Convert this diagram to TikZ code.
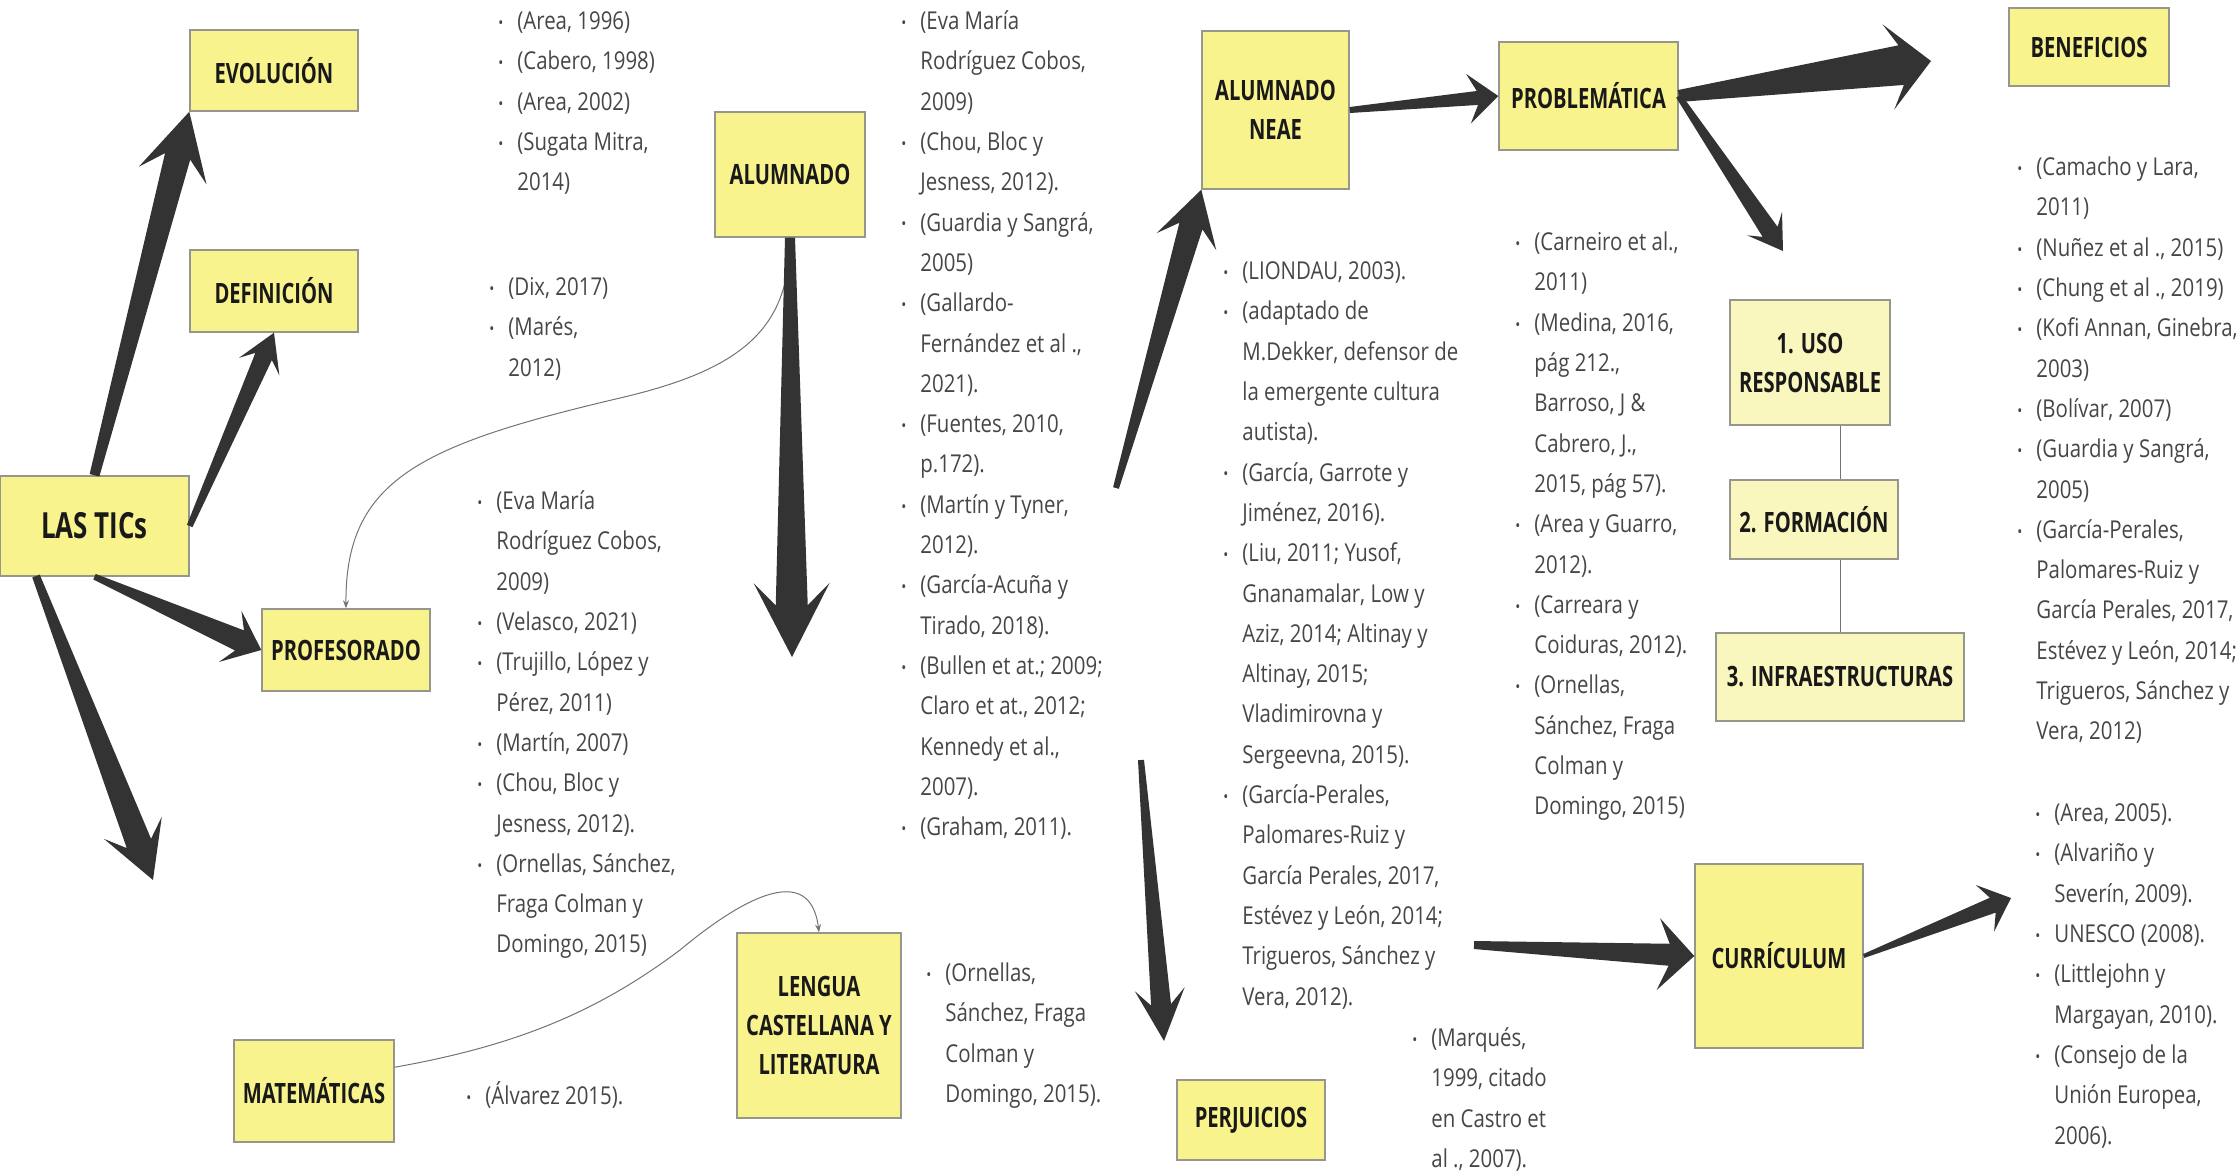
\documentclass[tikz,border=0pt]{standalone}
\usepackage{fontspec}
\setmainfont{Open Sans}[FakeStretch=0.83]
\newfontfamily\titlefont{Open Sans}[FakeStretch=0.72]
\usetikzlibrary{calc,arrows.meta}

\definecolor{notaamarilla}{RGB}{248,243,141}
\definecolor{notaclara}{RGB}{249,247,190}
\definecolor{bordenota}{RGB}{150,150,140}
\definecolor{flecha}{RGB}{51,51,51}
\definecolor{textoref}{RGB}{70,70,70}

% items of the reference lists
\newcommand{\refi}[1]{\strut\makebox[9.5pt][l]{\raisebox{0.6pt}{\footnotesize •}}#1}
\newcommand{\cnt}[1]{\strut\hspace*{9.5pt}#1}

% tapered arrow: tail, tip, tail half width, shaft half width, head half width, head length
\newcommand{\fatarrow}[6]{%
  \path ($(#2)!#6!(#1)$) coordinate (faH) ($(#2)!0.7*#6!(#1)$) coordinate (faS);
  \fill[flecha] ($(#1)!#3!90:(#2)$) -- ($(faS)!#4!90:(#2)$) -- ($(faH)!#5!90:(#2)$) -- (#2)
    -- ($(faH)!#5!-90:(#2)$) -- ($(faS)!#4!-90:(#2)$) -- ($(#1)!#3!-90:(#2)$) -- cycle;}

\begin{document}
\begin{tikzpicture}[x=0.5pt,y=-0.5pt,
  tema/.style={draw=bordenota, line width=0.7pt, fill=notaamarilla, align=center, inner sep=2pt,
    text=black!90, font=\titlefont\bfseries\fontsize{14}{19.5}\selectfont},
  temaclaro/.style={tema, fill=notaclara},
  refs/.style={anchor=north west, inner sep=0pt, align=left, text=textoref,
    font=\fontsize{12.3}{20.15}\selectfont},
  conector/.style={draw=black!55, line width=0.5pt, -{Stealth[length=4pt,width=3pt]}}]
\useasboundingbox (0,0) rectangle (2239,1173);

% Boxes
\node[tema, minimum width=94.5pt, minimum height=50pt, font=\titlefont\bfseries\fontsize{18}{22}\selectfont] (tics) at (94.5,526) {LAS TICs};
\node[tema, minimum width=84pt, minimum height=40.5pt] (evol) at (274,70.5) {EVOLUCIÓN};
\node[tema, minimum width=84pt, minimum height=41pt] (defin) at (274,291) {DEFINICIÓN};
\node[tema, minimum width=84pt, minimum height=41pt] (prof) at (346,650) {PROFESORADO};
\node[tema, minimum width=75pt, minimum height=62.5pt] (alum) at (790,174.5) {ALUMNADO};
\node[tema, minimum width=80pt, minimum height=51pt] (mate) at (314,1091) {MATEMÁTICAS};
\node[tema, minimum width=82pt, minimum height=92.5pt] (lengua) at (819,1025.5) {LENGUA\\CASTELLANA Y\\LITERATURA};
\node[tema, minimum width=73.5pt, minimum height=79pt] (neae) at (1275.5,110) {ALUMNADO\\NEAE};
\node[tema, minimum width=89.5pt, minimum height=54pt] (probl) at (1588.5,96) {PROBLEMÁTICA};
\node[tema, minimum width=80pt, minimum height=39pt] (benef) at (2089,47) {BENEFICIOS};
\node[temaclaro, minimum width=80pt, minimum height=62.5pt] (uso) at (1810,362.5) {1. USO\\RESPONSABLE};
\node[temaclaro, minimum width=84pt, minimum height=39.5pt] (form) at (1814,519.5) {2. FORMACIÓN};
\node[temaclaro, minimum width=124pt, minimum height=44pt] (infra) at (1840,677) {3. INFRAESTRUCTURAS};
\node[tema, minimum width=84pt, minimum height=92pt] (curr) at (1779,956) {CURRÍCULUM};
\node[tema, minimum width=74pt, minimum height=40pt] (perj) at (1251,1120) {PERJUICIOS};

% Reference lists
\node[refs] (refEvol) at (498,1) {\refi{(Area, 1996)}\\\refi{(Cabero, 1998)}\\\refi{(Area, 2002)}\\
  \refi{(Sugata Mitra,}\\\cnt{2014)}};
\node[refs] (refDefin) at (489,267) {\refi{(Dix, 2017)}\\\refi{(Marés,}\\\cnt{2012)}};
\node[refs] (refProf) at (477,481) {\refi{(Eva María}\\\cnt{Rodríguez Cobos,}\\\cnt{2009)}\\
  \refi{(Velasco, 2021)}\\\refi{(Trujillo, López y}\\\cnt{Pérez, 2011)}\\\refi{(Martín, 2007)}\\
  \refi{(Chou, Bloc y}\\\cnt{Jesness, 2012).}\\\refi{(Ornellas, Sánchez,}\\\cnt{Fraga Colman y}\\
  \cnt{Domingo, 2015)}};
\node[refs] (refAlum) at (901,1) {\refi{(Eva María}\\\cnt{Rodríguez Cobos,}\\\cnt{2009)}\\
  \refi{(Chou, Bloc y}\\\cnt{Jesness, 2012).}\\\refi{(Guardia y Sangrá,}\\\cnt{2005)}\\
  \refi{(Gallardo-}\\\cnt{Fernández et al .,}\\\cnt{2021).}\\\refi{(Fuentes, 2010,}\\\cnt{p.172).}\\
  \refi{(Martín y Tyner,}\\\cnt{2012).}\\\refi{(García-Acuña y}\\\cnt{Tirado, 2018).}\\
  \refi{(Bullen et at.; 2009;}\\\cnt{Claro et at., 2012;}\\\cnt{Kennedy et al.,}\\\cnt{2007).}\\
  \refi{(Graham, 2011).}};
\node[refs] (refMate) at (466,1076) {\refi{(Álvarez 2015).}};
\node[refs] (refLengua) at (926,953) {\refi{(Ornellas,}\\\cnt{Sánchez, Fraga}\\\cnt{Colman y}\\
  \cnt{Domingo, 2015).}};
\node[refs] (refNeae) at (1223,251) {\refi{(LIONDAU, 2003).}\\\refi{(adaptado de}\\
  \cnt{M.Dekker, defensor de}\\\cnt{la emergente cultura}\\\cnt{autista).}\\
  \refi{(García, Garrote y}\\\cnt{Jiménez, 2016).}\\\refi{(Liu, 2011; Yusof,}\\
  \cnt{Gnanamalar, Low y}\\\cnt{Aziz, 2014; Altinay y}\\\cnt{Altinay, 2015;}\\\cnt{Vladimirovna y}\\
  \cnt{Sergeevna, 2015).}\\\refi{(García-Perales,}\\\cnt{Palomares-Ruiz y}\\
  \cnt{García Perales, 2017,}\\\cnt{Estévez y León, 2014;}\\\cnt{Trigueros, Sánchez y}\\
  \cnt{Vera, 2012).}};
\node[refs] (refPerj) at (1412,1018) {\refi{(Marqués,}\\\cnt{1999, citado}\\\cnt{en Castro et}\\
  \cnt{al ., 2007).}};
\node[refs] (refProbl) at (1515,222) {\refi{(Carneiro et al.,}\\\cnt{2011)}\\\refi{(Medina, 2016,}\\
  \cnt{pág 212.,}\\\cnt{Barroso, J \&}\\\cnt{Cabrero, J.,}\\\cnt{2015, pág 57).}\\
  \refi{(Area y Guarro,}\\\cnt{2012).}\\\refi{(Carreara y}\\\cnt{Coiduras, 2012).}\\
  \refi{(Ornellas,}\\\cnt{Sánchez, Fraga}\\\cnt{Colman y}\\\cnt{Domingo, 2015)}};
\node[refs] (refBenef) at (2017,147) {\refi{(Camacho y Lara,}\\\cnt{2011)}\\\refi{(Nuñez et al ., 2015)}\\
  \refi{(Chung et al ., 2019)}\\\refi{(Kofi Annan, Ginebra,}\\\cnt{2003)}\\\refi{(Bolívar, 2007)}\\
  \refi{(Guardia y Sangrá,}\\\cnt{2005)}\\\refi{(García-Perales,}\\\cnt{Palomares-Ruiz y}\\
  \cnt{García Perales, 2017,}\\\cnt{Estévez y León, 2014;}\\\cnt{Trigueros, Sánchez y}\\
  \cnt{Vera, 2012)}};
\node[refs] (refCurr) at (2035,793) {\refi{(Area, 2005).}\\\refi{(Alvariño y}\\\cnt{Severín, 2009).}\\
  \refi{UNESCO (2008).}\\\refi{(Littlejohn y}\\\cnt{Margayan, 2010).}\\\refi{(Consejo de la}\\
  \cnt{Unión Europea,}\\\cnt{2006).}};

% Thin connectors
\draw[conector] (alum.south) .. controls (790,330) and (740,370) .. (620,398)
  .. controls (420,445) and (345,480) .. (prof.north);
\draw[conector] ($(mate.north east)!0.27!(mate.south east)$) .. controls (520,1045) and (600,1010) .. (680,950)
  .. controls (740,900) and (810,860) .. (lengua.north);
\draw[draw=black!55, line width=0.5pt] (uso.south -| infra.north) -- (form.north -| infra.north);
\draw[draw=black!55, line width=0.5pt] (form.south -| infra.north) -- (infra.north);

% Free ends of the big arrows
\coordinate (ticsPie) at (36,576);
\coordinate (ticsFin) at (153,880);
\coordinate (alumFin) at (792,657);
\coordinate (neaeIni) at (1116,488);
\coordinate (benefFin) at (1931,61);
\coordinate (usoFin) at (1783,251);
\coordinate (currIni) at (1474,945);
\coordinate (currFin) at (2011,898);
\coordinate (perjIni) at (1141,760);
\coordinate (perjFin) at (1164,1041);

% Big arrows
\fatarrow{tics.north}{evol.south west}{2.5pt}{6.5pt}{17.5pt}{33pt}
\fatarrow{tics.east}{defin.south}{1.5pt}{4.5pt}{11pt}{18.5pt}
\fatarrow{tics.south}{prof.west}{1.5pt}{5.5pt}{14pt}{17pt}
\fatarrow{ticsPie}{ticsFin}{2pt}{6.5pt}{15.5pt}{28pt}
\fatarrow{alum.south}{alumFin}{2.5pt}{8pt}{19pt}{37pt}
\fatarrow{neaeIni}{neae.south west}{1.5pt}{6pt}{15.5pt}{27pt}
\fatarrow{neae.east}{probl.west}{1.5pt}{3.5pt}{12.5pt}{15pt}
\fatarrow{probl.east}{benefFin}{3pt}{10pt}{21.5pt}{21.5pt}
\fatarrow{probl.east}{usoFin}{1.5pt}{4.5pt}{10.5pt}{16.5pt}
\fatarrow{currIni}{curr.west}{2pt}{5.5pt}{18pt}{18pt}
\fatarrow{curr.east}{currFin}{1pt}{4pt}{12.5pt}{14pt}
\fatarrow{perjIni}{perjFin}{1.5pt}{5pt}{12.5pt}{26pt}

\end{tikzpicture}
\end{document}
